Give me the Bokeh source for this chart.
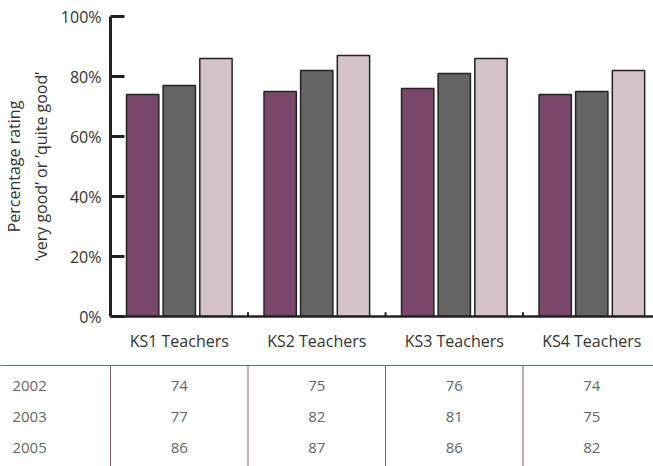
from bokeh.plotting import figure
from bokeh.models import Range1d, FixedTicker, PrintfTickFormatter, ColumnDataSource
from bokeh.layouts import column
from bokeh.core.properties import value
from bokeh.embed import file_html
from bokeh.resources import INLINE

# ---- data ----
categories = ["KS1 Teachers", "KS2 Teachers", "KS3 Teachers", "KS4 Teachers"]
years = ["2002", "2003", "2005"]
v2002 = [74, 75, 76, 74]
v2003 = [77, 82, 81, 75]
v2005 = [86, 87, 86, 82]
series = [v2002, v2003, v2005]
colors = ["#7a486a", "#646464", "#d4c4ca"]
y_ticks = [0, 20, 40, 60, 80, 100]

FONT = "Open Sans"
W = 653

# ---- chart ----
n = len(categories)
centers = [i + 0.5 for i in range(n)]
x_min_page = -0.8
x_max = 3.949

p = figure(width=W, height=358, output_backend="svg", toolbar_location=None,
           x_range=Range1d(0, x_max), y_range=Range1d(0, 100),
           min_border_left=110, min_border_right=0, min_border_top=16,
           min_border_bottom=42)
p.outline_line_color = None
p.xgrid.visible = False
p.ygrid.visible = False

offsets = [-0.266, 0.0, 0.267]
for k, vals in enumerate(series):
    src = ColumnDataSource(dict(x=[c + offsets[k] for c in centers], top=vals))
    p.vbar(x="x", top="top", bottom=0, width=0.235, source=src,
           fill_color=colors[k], line_color="#222222", line_width=1.5)

# group separator ticks on x axis
seps = list(range(1, n))
p.segment(x0=seps, y0=[0] * len(seps), x1=seps, y1=[1.4] * len(seps),
          line_color="#222222", line_width=2)

# y axis
ya = p.yaxis[0]
ya.ticker = FixedTicker(ticks=y_ticks)
ya.formatter = PrintfTickFormatter(format="%d%%")
ya.major_tick_in = 14
ya.major_tick_out = 0
ya.minor_tick_line_color = None
ya.axis_line_width = 3
ya.major_tick_line_width = 3
ya.axis_line_color = "#222222"
ya.major_tick_line_color = "#222222"
ya.major_label_text_font = FONT
ya.major_label_text_font_size = "16px"
ya.major_label_text_color = "#333333"
ya.major_label_standoff = 9
ya.axis_label = "Percentage rating\n\u2019very good\u2019 or \u2019quite good\u2019"
ya.axis_label_text_font = FONT
ya.axis_label_text_font_size = "16px"
ya.axis_label_text_font_style = "normal"
ya.axis_label_text_color = "#333333"
ya.axis_label_standoff = 6

# x axis
xa = p.xaxis[0]
xa.ticker = FixedTicker(ticks=centers)
xa.major_label_overrides = {c: lab for c, lab in zip(centers, categories)}
xa.major_tick_in = 0
xa.major_tick_out = 0
xa.minor_tick_line_color = None
xa.axis_line_width = 2.5
xa.axis_line_color = "#222222"
xa.major_label_text_font = FONT
xa.major_label_text_font_size = "16px"
xa.major_label_text_color = "#333333"
xa.major_label_standoff = 13

# ---- table ----
TH = 108
t = figure(width=W, height=TH, output_backend="svg", toolbar_location=None,
           x_range=Range1d(0, x_max), y_range=Range1d(TH, 0),
           min_border_left=110, min_border_right=0, min_border_top=0,
           min_border_bottom=0)
t.outline_line_color = None
t.xgrid.visible = False
t.ygrid.visible = False
t.xaxis.visible = False
t.yaxis.visible = False

line_col = "#8a5a7c"
t.segment(x0=[x_min_page], y0=[7], x1=[x_max], y1=[7], line_color=line_col,
          line_width=1, level="overlay")
vlines = list(range(0, n))
t.segment(x0=vlines, y0=[7] * n, x1=vlines, y1=[TH] * n, line_color=line_col,
          line_width=1, level="overlay")

row_y = [27 + 31 * i for i in range(len(years))]
t.text(x=[-0.713] * len(years), y=row_y, text=years, text_font=value(FONT),
       text_font_size="15px", text_color="#666666", text_align="left",
       text_baseline="middle", level="overlay")
for r, vals in enumerate(series):
    t.text(x=centers, y=[row_y[r]] * n, text=[str(v) for v in vals],
           text_font=value(FONT), text_font_size="15px", text_color="#666666",
           text_align="center", text_baseline="middle", level="overlay")

layout = column(p, t, spacing=0)
open("out.html", "w").write(file_html(layout, INLINE))
